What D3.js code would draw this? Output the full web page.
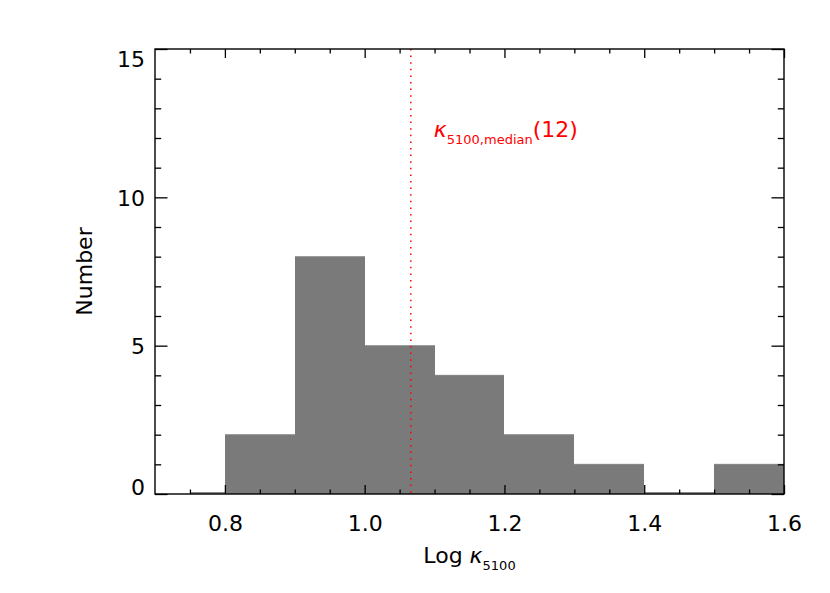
<!DOCTYPE html>
<html>
<head>
<meta charset="utf-8">
<script src="https://cdn.jsdelivr.net/npm/d3@7"></script>
<style>
  html, body { margin: 0; padding: 0; background: #fff; }
  svg { display: block; }
  text { font-family: "DejaVu Sans", "Liberation Sans", sans-serif; }
</style>
</head>
<body>
<svg id="chart" width="830" height="593"></svg>
<script>
// ---- data ----
const binEdges = [0.75, 0.8, 0.9, 1.0, 1.1, 1.2, 1.3, 1.4, 1.5, 1.6];
const counts   = [0, 2, 8, 5, 4, 2, 1, 0, 1];
const medianLogK = 1.066;
const medianCount = 12;
const xTickValues = [0.8, 1.0, 1.2, 1.4, 1.6];
const xMinorValues = [0.75, 0.85, 0.9, 0.95, 1.05, 1.1, 1.15, 1.25, 1.3, 1.35, 1.45, 1.5, 1.55];
const yTickValues = [0, 5, 10, 15];
const yMinorValues = [1, 2, 3, 4, 6, 7, 8, 9, 11, 12, 13, 14];

const W = 830, H = 593;
const margin = { left: 155, right: 46, top: 49, bottom: 99 };
const iw = W - margin.left - margin.right;
const ih = H - margin.top - margin.bottom;

const svg = d3.select("#chart");
const g = svg.append("g").attr("transform", `translate(${margin.left},${margin.top})`);

const x = d3.scaleLinear().domain([0.7, 1.6]).range([0, iw]);
const y = d3.scaleLinear().domain([0, 15]).range([ih, 0]);

const bins = counts.map((c, i) => ({ x0: binEdges[i], x1: binEdges[i + 1], n: c }));

// bars
g.selectAll("rect.bar").data(bins).join("rect")
  .attr("class", "bar")
  .attr("x", d => Math.round(x(d.x0)))
  .attr("width", d => Math.round(x(d.x1)) - Math.round(x(d.x0)))
  .attr("y", d => d.n === 0 ? ih - 2 : y(d.n))
  .attr("height", d => d.n === 0 ? 2 : ih - y(d.n))
  .attr("fill", d => d.n === 0 ? "#8a8a8a" : "#7a7a7a")
  .attr("shape-rendering", "crispEdges")
  .attr("stroke", "none");

// bar top edges (lighter outline as in the reference)
g.selectAll("line.edge").data(bins.filter(d => d.n > 0)).join("line")
  .attr("class", "edge")
  .attr("x1", d => Math.round(x(d.x0))).attr("x2", d => Math.round(x(d.x1)))
  .attr("y1", d => y(d.n)).attr("y2", d => y(d.n))
  .attr("stroke", "#8a8a8a").attr("stroke-width", 1);

// median line
g.append("line")
  .attr("x1", x(medianLogK)).attr("x2", x(medianLogK))
  .attr("y1", 0).attr("y2", ih)
  .attr("stroke", "#ff0000")
  .attr("stroke-width", 1.5)
  .attr("stroke-dasharray", "1.5,5.1");

const majX = 9, minX = 4.5, majY = 12.5, minY = 6.2;
const axisFont = 22;

function styleAxis(sel) {
  sel.select(".domain").remove();
  sel.selectAll("line").attr("stroke", "#000").attr("stroke-width", 1.3);
  sel.selectAll("text").attr("font-size", axisFont).attr("fill", "#000")
     .attr("font-family", "DejaVu Sans, sans-serif");
}

// bottom
const gb = g.append("g").attr("transform", `translate(0,${ih})`)
  .call(d3.axisBottom(x).tickValues(xTickValues).tickSize(-majX).tickPadding(21).tickFormat(d3.format(".1f")));
styleAxis(gb);
const gbm = g.append("g").attr("transform", `translate(0,${ih})`)
  .call(d3.axisBottom(x).tickValues(xMinorValues).tickSize(-minX).tickFormat(""));
styleAxis(gbm);
// top
const gt = g.append("g")
  .call(d3.axisTop(x).tickValues(xTickValues).tickSize(-majX).tickFormat(""));
styleAxis(gt);
const gtm = g.append("g")
  .call(d3.axisTop(x).tickValues(xMinorValues).tickSize(-minX).tickFormat(""));
styleAxis(gtm);
// left
const gl = g.append("g")
  .call(d3.axisLeft(y).tickValues(yTickValues).tickSize(-majY).tickPadding(10).tickFormat(d3.format("d")));
styleAxis(gl);
gl.selectAll(".tick text").attr("dy", d => d === 15 ? "0.78em" : (d === 0 ? "0.02em" : "0.36em"));
const glm = g.append("g")
  .call(d3.axisLeft(y).tickValues(yMinorValues).tickSize(-minY).tickFormat(""));
styleAxis(glm);
// right
const gr = g.append("g").attr("transform", `translate(${iw},0)`)
  .call(d3.axisRight(y).tickValues(yTickValues).tickSize(-majY).tickFormat(""));
styleAxis(gr);
const grm = g.append("g").attr("transform", `translate(${iw},0)`)
  .call(d3.axisRight(y).tickValues(yMinorValues).tickSize(-minY).tickFormat(""));
styleAxis(grm);

// frame
g.append("rect").attr("x", 0).attr("y", 0).attr("width", iw).attr("height", ih)
  .attr("fill", "none").attr("stroke", "#000").attr("stroke-width", 1.4);

// x title
const xt = svg.append("text")
  .attr("x", margin.left + iw / 2).attr("y", 563)
  .attr("text-anchor", "middle").attr("font-size", 22).attr("fill", "#000");
xt.append("tspan").text("Log ");
xt.append("tspan").attr("font-style", "italic").text("κ");
xt.append("tspan").attr("font-size", 13).attr("dy", 7).text("5100");

// y title
svg.append("text")
  .attr("transform", `translate(92,${margin.top + ih / 2}) rotate(-90)`)
  .attr("text-anchor", "middle").attr("font-size", 22).attr("fill", "#000")
  .text("Number");

// median label
const ml = svg.append("text")
  .attr("x", margin.left + x(medianLogK) + 23).attr("y", 137)
  .attr("font-size", 22).attr("fill", "#ff0000");
ml.append("tspan").attr("font-style", "italic").text("κ");
ml.append("tspan").attr("font-size", 13).attr("dy", 7).text("5100,median");
ml.append("tspan").attr("dy", -7).text("(" + medianCount + ")");
</script>
</body>
</html>
